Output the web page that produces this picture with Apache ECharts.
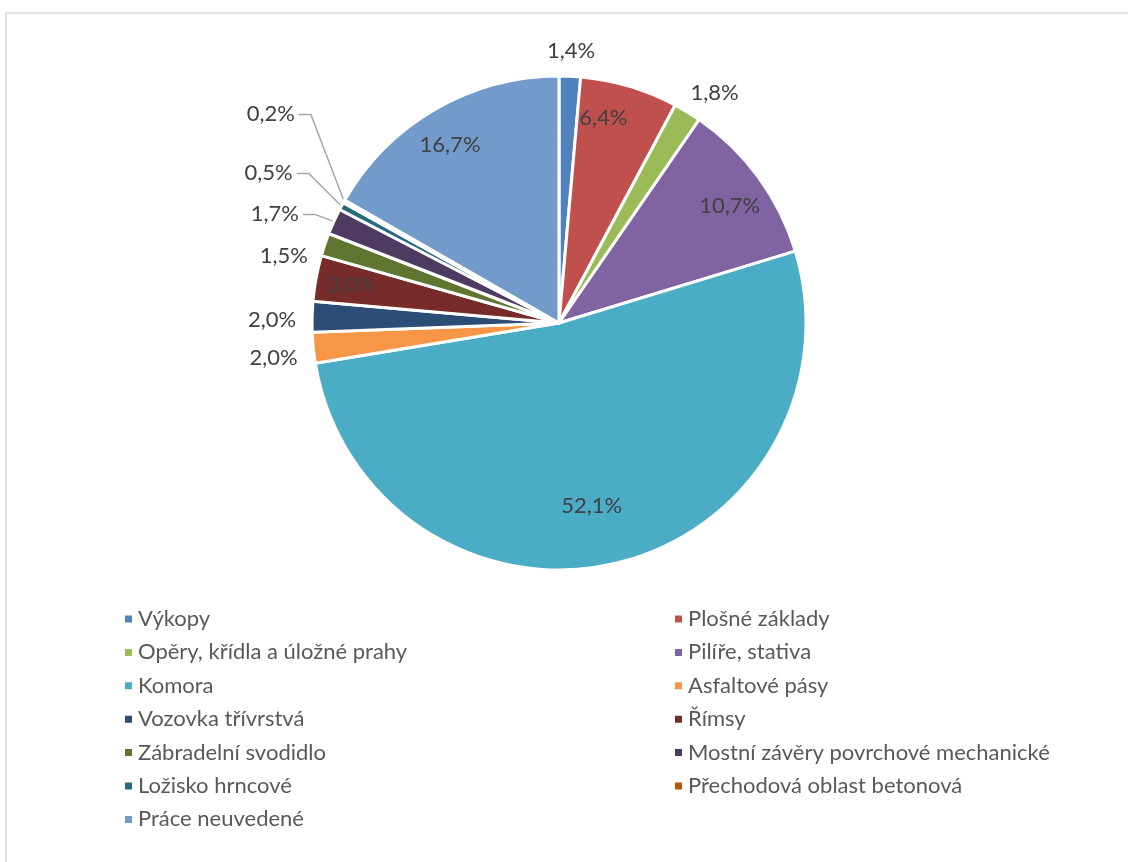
<!DOCTYPE html>
<html>
<head>
<meta charset="utf-8">
<script src="https://cdn.jsdelivr.net/npm/echarts@6/dist/echarts.min.js"></script>
<style>
  html, body { margin: 0; padding: 0; background: #fff; }
  #chart { width: 1128px; height: 862px; }
</style>
</head>
<body>
<div id="chart"></div>
<script>
var names = ['Výkopy', 'Plošné základy', 'Opěry, křídla a úložné prahy', 'Pilíře, stativa',
    'Komora', 'Asfaltové pásy', 'Vozovka třívrstvá', 'Římsy', 'Zábradelní svodidlo',
    'Mostní závěry povrchové mechanické', 'Ložisko hrncové', 'Přechodová oblast betonová',
    'Práce neuvedené'];
var shares = [1.4, 6.4, 1.8, 10.7, 52.1, 2.0, 2.0, 3.0, 1.5, 1.7, 0.5, 0.2, 16.7];
var colors = ['#4F81BD', '#C0504D', '#9BBB59', '#8064A2', '#4BACC6', '#F79646', '#2C4D75',
    '#772C2A', '#5F7530', '#4D3B62', '#276A7C', '#B65708', '#729ACA'];

// label groups: where each slice's percentage sits
var rimInside = ['Plošné základy', 'Pilíře, stativa', 'Římsy', 'Práce neuvedené'];
var midInside = ['Komora'];
var topOutside = ['Výkopy', 'Opěry, křídla a úložné prahy'];
var sideOutside = ['Asfaltové pásy', 'Vozovka třívrstvá', 'Zábradelní svodidlo'];
var withLine = ['Mostní závěry povrchové mechanické', 'Ložisko hrncové', 'Přechodová oblast betonová'];
// small label nudges [dx, dy], the way Excel fans the labels out
var labelNudge = {
    'Plošné základy': [-16, -2],
    'Opěry, křídla a úložné prahy': [14, 3],
    'Pilíře, stativa': [0, 8],
    'Komora': [-10, 0],
    'Asfaltové pásy': [0, 6],
    'Vozovka třívrstvá': [0, 4],
    'Zábradelní svodidlo': [-3, 24],
    'Práce neuvedené': [-3, 5],
    'Mostní závěry povrchové mechanické': [0, -28],
    'Ložisko hrncové': [-14, -45],
    'Přechodová oblast betonová': [-22, -80]
};

var font = 'Lato, "Noto Sans", sans-serif';
var R = 247;
var CENTER = [559, 323];

function pct(p) {
    return p.value.toFixed(1).replace('.', ',') + '%';
}

function nudgeLayout(params) {
    var s = labelNudge[names[params.dataIndex]];
    if (!s) return {};
    var out = { dx: s[0], dy: s[1] };
    if (params.labelLinePoints) {
        // redraw the leader line: from the slice edge up to the moved label
        var r = params.labelRect;
        var cy = r.y + r.height / 2 + s[1];
        var endX = r.x + r.width + s[0] + 4;
        out.labelLinePoints = [params.labelLinePoints[0], [endX + 12, cy], [endX, cy]];
    }
    return out;
}

// transparent ring that only carries labels centred between r0 and r1
function labelRing(r0, r1, shown) {
    return {
        type: 'pie',
        center: CENTER,
        radius: [r0, r1],
        startAngle: 90,
        clockwise: true,
        silent: true,
        legendHoverLink: false,
        avoidLabelOverlap: false,
        labelLayout: nudgeLayout,
        itemStyle: { color: 'rgba(0,0,0,0)', borderWidth: 0 },
        label: {
            show: true,
            position: 'inside',
            formatter: pct,
            color: '#404040',
            fontSize: 22,
            fontFamily: font
        },
        labelLine: { show: false },
        emphasis: { disabled: true },
        data: names.map(function (n, i) {
            return {
                name: n + ' ',
                value: shares[i],
                label: { show: shown.indexOf(n) >= 0 }
            };
        })
    };
}

var chart = echarts.init(document.getElementById('chart'), null, { renderer: 'canvas' });

var legendText = { color: '#595959', fontSize: 22, fontFamily: font, lineHeight: 24 };

var option = {
    color: colors,
    animation: false,
    graphic: [{
        type: 'rect',
        shape: { x: 6, y: 13, width: 1140, height: 870 },
        style: { fill: 'none', stroke: '#d9d9d9', lineWidth: 1.5 },
        silent: true
    }],
    legend: [{
        orient: 'vertical',
        left: 118,
        top: 602,
        icon: 'rect',
        itemWidth: 9,
        itemHeight: 9,
        itemGap: 9.4,
        textStyle: legendText,
        data: names.filter(function (n, i) { return i % 2 === 0; })
    }, {
        orient: 'vertical',
        left: 668,
        top: 602,
        icon: 'rect',
        itemWidth: 9,
        itemHeight: 9,
        itemGap: 9.4,
        textStyle: legendText,
        data: names.filter(function (n, i) { return i % 2 === 1; })
    }],
    series: [{
        type: 'pie',
        center: CENTER,
        radius: [0, R],
        startAngle: 90,
        clockwise: true,
        avoidLabelOverlap: true,
        itemStyle: { borderColor: '#fff', borderWidth: 3 },
        label: {
            show: true,
            position: 'outside',
            formatter: pct,
            color: '#404040',
            fontSize: 22,
            fontFamily: font
        },
        labelLine: {
            show: true,
            length: 14,
            length2: 10,
            lineStyle: { color: '#a6a6a6', width: 1.5 }
        },
        labelLayout: nudgeLayout,
        emphasis: { disabled: true },
        data: names.map(function (n, i) {
            var lined = withLine.indexOf(n) >= 0;
            return {
                name: n,
                value: shares[i],
                label: { show: lined },
                labelLine: { show: lined }
            };
        })
    },
    labelRing(170, R, rimInside),
    labelRing(123, R, midInside),
    labelRing(R, 292, topOutside),
    labelRing(R, 321, sideOutside)
    ]
};

chart.setOption(option);
</script>
</body>
</html>
